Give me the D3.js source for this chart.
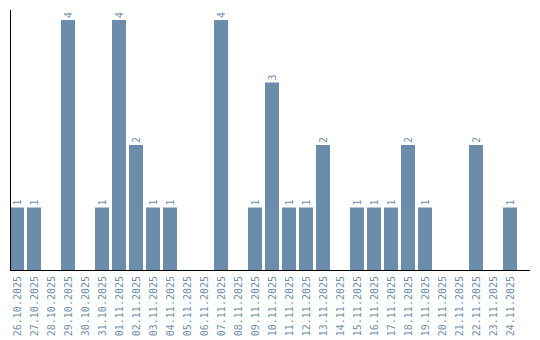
<!DOCTYPE html>
<html>
<head>
<meta charset="utf-8">
<script src="https://cdn.jsdelivr.net/npm/d3@7"></script>
<style>
	body { margin: 0; background: #fff; }
	text { font-family: "DejaVu Sans Mono", monospace; font-size: 10px; fill: #6f90ae; }
</style>
</head>
<body>
<svg id="chart" width="540" height="340"></svg>
<script>
let dates = ['26.10.2025', '27.10.2025', '28.10.2025', '29.10.2025', '30.10.2025', '31.10.2025',
	'01.11.2025', '02.11.2025', '03.11.2025', '04.11.2025', '05.11.2025', '06.11.2025',
	'07.11.2025', '08.11.2025', '09.11.2025', '10.11.2025', '11.11.2025', '12.11.2025',
	'13.11.2025', '14.11.2025', '15.11.2025', '16.11.2025', '17.11.2025', '18.11.2025',
	'19.11.2025', '20.11.2025', '21.11.2025', '22.11.2025', '23.11.2025', '24.11.2025'];
let counts = [1, 1, 0, 4, 0, 1, 4, 2, 1, 1, 0, 0, 4, 0, 1, 3, 1, 1, 2, 0, 1, 1, 1, 2, 1, 0, 0, 2, 0, 1];

let margin = {left: 10, top: 10, bottom: 70, right: 10};
let bar_color = '#6b8dab';

let svg = d3.select('#chart');

let x = d3.scaleBand().domain(dates)
	.range([margin.left, 517])
	.paddingInner(3 / 17)
	.paddingOuter(0);
let y = d3.scaleLinear().domain([0, 4])
	.range([270, 20]);

let data = dates.map((d, i) => ({date: d, value: counts[i]}));

// bars
svg.selectAll('.bar')
	.data(data.filter(d => d.value > 0))
	.enter()
	.append('rect')
	.attr('class', 'bar')
	.attr('x', d => x(d.date))
	.attr('y', d => y(d.value))
	.attr('width', x.bandwidth())
	.attr('height', d => y(0) - y(d.value))
	.style('fill', bar_color);

// value labels
svg.selectAll('.val')
	.data(data.filter(d => d.value > 0))
	.enter()
	.append('text')
	.attr('class', 'val')
	.attr('transform', d => `translate(${x(d.date) + x.bandwidth() / 2 + 3.5}, ${y(d.value) - 2}) rotate(-90)`)
	.text(d => d.value);

// date labels
svg.selectAll('.date')
	.data(dates)
	.enter()
	.append('text')
	.attr('class', 'date')
	.attr('text-anchor', 'end')
	.attr('transform', d => `translate(${x(d) + x.bandwidth() / 2 + 3.5}, 276) rotate(-90)`)
	.text(d => d);

// axes lines
svg.append('line')
	.attr('x1', margin.left + 0.5).attr('x2', margin.left + 0.5)
	.attr('y1', margin.top).attr('y2', y(0) + 1)
	.style('stroke', 'black').style('stroke-width', 1);
svg.append('line')
	.attr('x1', margin.left).attr('x2', 530)
	.attr('y1', y(0) + 0.5).attr('y2', y(0) + 0.5)
	.style('stroke', 'black').style('stroke-width', 1);
</script>
</body>
</html>
